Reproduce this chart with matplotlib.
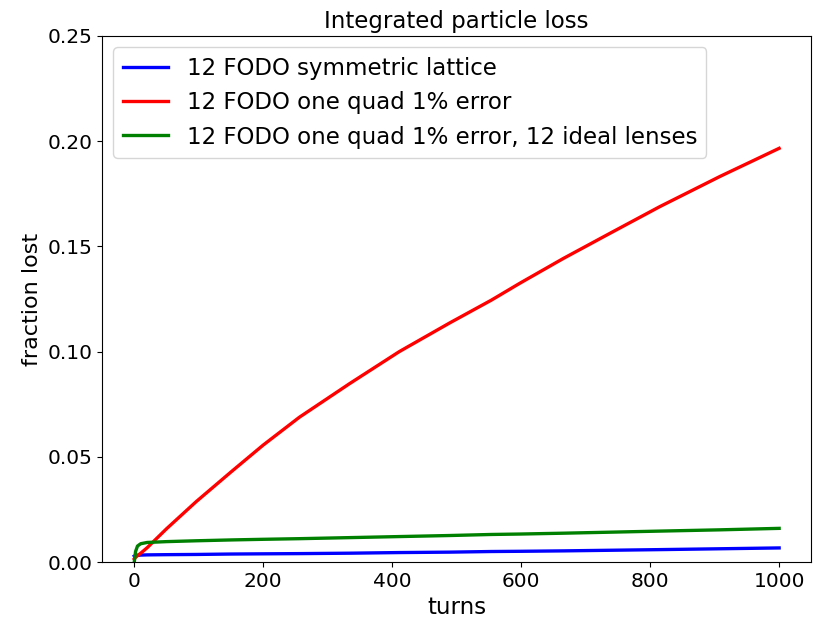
import numpy as np
import matplotlib
matplotlib.use("Agg")
import matplotlib.pyplot as plt

# values
turns = [0, 2, 5, 10, 20, 50, 96, 150, 200, 256, 334, 411, 489, 554,
         598, 665, 740, 815, 908, 1000]
symmetric = [0.0028, 0.0031, 0.0032, 0.0033, 0.0034, 0.0035, 0.0036, 0.0038, 0.0039,
             0.0040, 0.0042, 0.0045, 0.0047, 0.0050, 0.0051, 0.0053, 0.0056,
             0.0059, 0.0063, 0.0067]
quad_error = [0.0015, 0.0022, 0.0030, 0.0042, 0.0068, 0.0158, 0.0287, 0.0428, 0.0556,
              0.0688, 0.0848, 0.1000, 0.1136, 0.1245, 0.1325, 0.1442, 0.1566,
              0.1689, 0.1832, 0.1966]
ideal_lenses = [0.0000, 0.0050, 0.0076, 0.0087, 0.0093, 0.0097, 0.0101, 0.0105, 0.0108,
                0.0111, 0.0116, 0.0121, 0.0126, 0.0131, 0.0133, 0.0137, 0.0142,
                0.0147, 0.0153, 0.0160]

fig = plt.figure(figsize=(8.13, 6.2), dpi=100)
ax = fig.add_subplot(111)
ax.plot(turns, symmetric, color='blue', lw=2.4, label='12 FODO symmetric lattice')
ax.plot(turns, quad_error, color='red', lw=2.4, label='12 FODO one quad 1% error')
ax.plot(turns, ideal_lenses, color='green', lw=2.4,
        label='12 FODO one quad 1% error, 12 ideal lenses')

ax.set_ylim(0, 0.25)
ax.set_xlim(-50, 1050)
ax.set_yticks([0, 0.05, 0.10, 0.15, 0.20, 0.25])
ax.set_yticklabels(['0.00', '0.05', '0.10', '0.15', '0.20', '0.25'])
ax.tick_params(labelsize=14.5)
ax.set_title('Integrated particle loss', fontsize=16.5)
ax.set_xlabel('turns', fontsize=16.5)
ax.set_ylabel('fraction lost', fontsize=16)
ax.legend(loc='upper left', fontsize=16.5)

fig.subplots_adjust(left=0.1255, right=0.998, top=0.942, bottom=0.0935)
fig.savefig('out.png')
